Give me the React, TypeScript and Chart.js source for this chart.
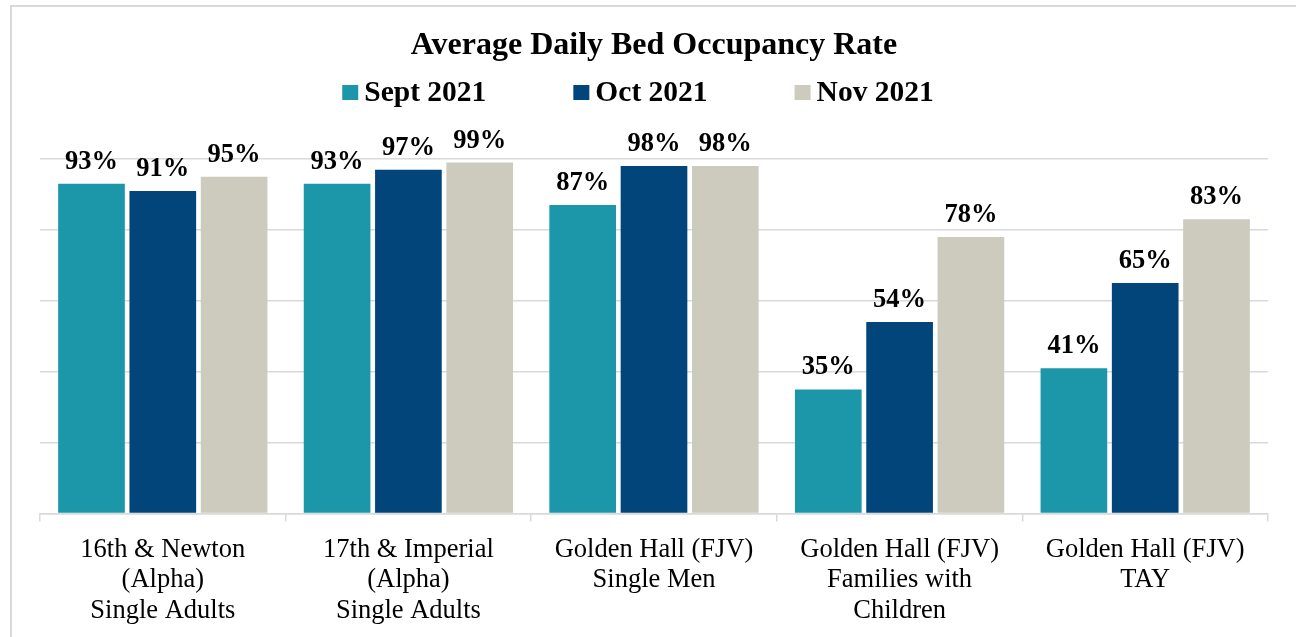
import React, { useEffect, useRef } from "react";
import { Chart, registerables } from "chart.js";

Chart.register(...registerables);

const categories: string[][] = [
  ["16th & Newton", "(Alpha)", "Single Adults"],
  ["17th & Imperial", "(Alpha)", "Single Adults"],
  ["Golden Hall (FJV)", "Single Men"],
  ["Golden Hall (FJV)", "Families with", "Children"],
  ["Golden Hall (FJV)", "TAY"],
];
const seriesNames = ["Sept 2021", "Oct 2021", "Nov 2021"];
const sept2021 = [93, 93, 87, 35, 41];
const oct2021 = [91, 97, 98, 54, 65];
const nov2021 = [95, 99, 98, 78, 83];
const seriesColors = ["#1b97a9", "#02457a", "#cccbbd"];
const yTicks = [0, 20, 40, 60, 80, 100];

const SERIF = "'Liberation Serif', 'Times New Roman', serif";
const GRID = "#d9d9d9";

const frameAndLabels = {
  id: "frameAndLabels",
  beforeDraw(chart: any) {
    const ctx = chart.ctx;
    ctx.save();
    ctx.fillStyle = "#ffffff";
    ctx.fillRect(0, 0, chart.width, chart.height);
    ctx.strokeStyle = GRID;
    ctx.lineWidth = 2;
    ctx.strokeRect(11, 6, chart.width + 50, chart.height + 50);
    ctx.restore();
  },
  afterDatasetsDraw(chart: any) {
    const ctx = chart.ctx;
    ctx.save();
    ctx.font = `bold 26.5px ${SERIF}`;
    ctx.fillStyle = "#000000";
    ctx.textAlign = "center";
    ctx.textBaseline = "alphabetic";
    chart.data.datasets.forEach((ds: any, i: number) => {
      const meta = chart.getDatasetMeta(i);
      meta.data.forEach((el: any, j: number) => {
        ctx.fillText(`${ds.data[j]}%`, el.x, el.y - 15);
      });
    });
    ctx.restore();
  },
  afterDraw(chart: any) {
    // legend
    const ctx = chart.ctx;
    ctx.save();
    ctx.font = `bold 29.5px ${SERIF}`;
    const box = 16;
    const gap = 6;
    const spacing = 87;
    const widths = seriesNames.map((n) => box + gap + ctx.measureText(n).width);
    const total = widths.reduce((a, b) => a + b, 0) + spacing * (seriesNames.length - 1);
    let x = 638 - total / 2;
    const cy = 92.5;
    ctx.textBaseline = "middle";
    ctx.textAlign = "left";
    seriesNames.forEach((n, i) => {
      ctx.fillStyle = seriesColors[i];
      ctx.fillRect(x, cy - 7.5, box, 15);
      ctx.fillStyle = "#000000";
      ctx.fillText(n, x + box + gap, cy + 1);
      x += widths[i] + spacing;
    });
    ctx.restore();
  },
};

export default function App() {
  const canvasRef = useRef<HTMLCanvasElement | null>(null);

  useEffect(() => {
    if (!canvasRef.current) return;
    const seriesData = [sept2021, oct2021, nov2021];
    const chart = new Chart(canvasRef.current, {
      type: "bar",
      data: {
        labels: categories,
        datasets: seriesNames.map((name, i) => ({
          label: name,
          data: seriesData[i],
          backgroundColor: seriesColors[i],
          borderWidth: 0,
          categoryPercentage: 0.871,
          barPercentage: 0.935,
        })),
      },
      options: {
        responsive: false,
        animation: false,
        layout: { padding: { left: 40, right: 28, top: 0, bottom: -2 } },
        plugins: {
          legend: { display: false },
          tooltip: { enabled: false },
          title: {
            display: true,
            text: "Average Daily Bed Occupancy Rate",
            color: "#000000",
            font: { family: SERIF, size: 32, weight: "bold", lineHeight: 1.2 },
            padding: { top: 27, bottom: 93.6 },
          },
        },
        scales: {
          x: {
            grid: {
              display: true,
              drawOnChartArea: false,
              offset: true,
              tickLength: 8,
              color: GRID,
              lineWidth: 1.5,
            },
            border: { display: true, color: GRID, width: 1.5 },
            ticks: {
              color: "#000000",
              padding: 13,
              maxRotation: 0,
              autoSkip: false,
              font: { family: SERIF, size: 26.5, lineHeight: "30.5px" as any },
            },
          },
          y: {
            min: 0,
            max: 100,
            afterBuildTicks: (scale: any) => {
              scale.ticks = yTicks.map((v) => ({ value: v }));
            },
            grid: { color: GRID, lineWidth: 1.5, drawTicks: false },
            border: { display: false },
            ticks: { display: false },
          },
        },
      },
      plugins: [frameAndLabels],
    });
    return () => chart.destroy();
  }, []);

  return (
    <div style={{ position: "fixed", left: 0, top: 0, width: 1296, height: 637, background: "#fff" }}>
      <canvas ref={canvasRef} width={1296} height={637} style={{ display: "block" }} />
    </div>
  );
}
